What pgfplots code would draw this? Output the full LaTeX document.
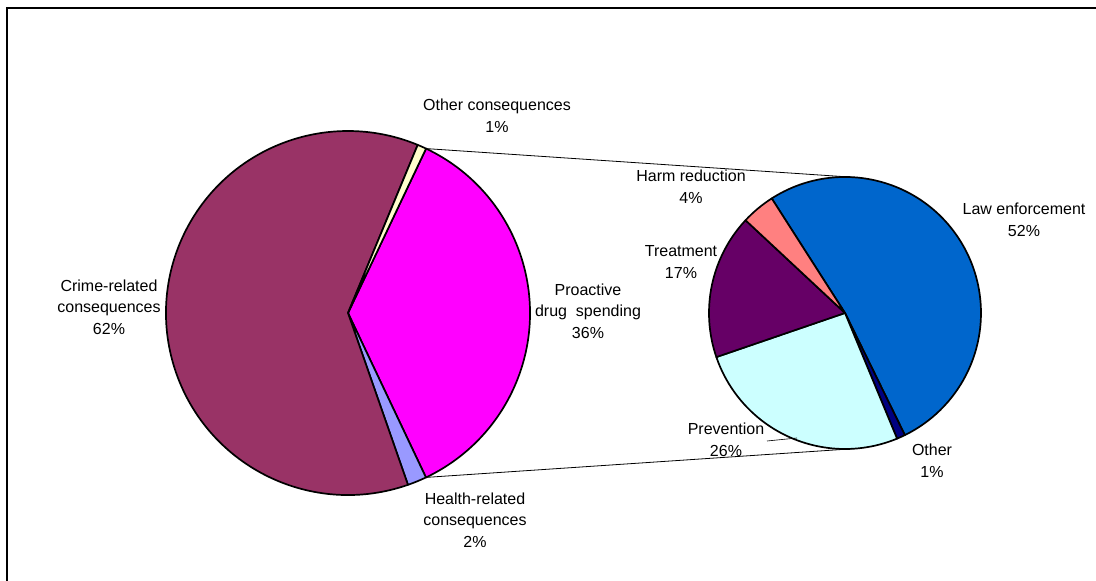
\documentclass[border=0pt]{standalone}
\usepackage{fontspec}
\setmainfont{Liberation Sans}
\usepackage{pgfplots}
\usepackage{pgfplotstable}
\pgfplotsset{compat=1.18}

% slice colours
\definecolor{proactive}{HTML}{FF00FF}
\definecolor{health}{HTML}{9999FF}
\definecolor{crime}{HTML}{993366}
\definecolor{othercons}{HTML}{FFFFCC}
\definecolor{lawenf}{HTML}{0066CC}
\definecolor{otherspend}{HTML}{000080}
\definecolor{prevention}{HTML}{CCFFFF}
\definecolor{treatment}{HTML}{660066}
\definecolor{harm}{HTML}{FF8080}

\tikzset{lbl/.style={font=\fontsize{16}{21.7}\selectfont, align=center, inner sep=0pt}}

% shares of total drug-related cost (%), clockwise
\pgfplotstableread{
share colour
35.9 proactive
1.7  health
61.6 crime
0.8  othercons
}\maintable

% breakdown of proactive drug spending (%), clockwise
\pgfplotstableread{
share colour
51.8 lawenf
1.0  otherspend
26.0 prevention
17.2 treatment
4.0  harm
}\spendtable

% store start/end angle and colour of every slice as #2a<i>, #2b<i>, #2c<i>
\newcommand\buildpie[3]{%
  \pgfplotstablegetrowsof{#1}%
  \pgfmathtruncatemacro\lastrow{\pgfplotsretval-1}%
  \xdef\cumangle{#3}%
  \foreach \i in {0,...,\lastrow}{%
    \pgfplotstablegetelem{\i}{share}\of{#1}\let\sliceshare\pgfplotsretval
    \pgfplotstablegetelem{\i}{colour}\of{#1}\let\slicecol\pgfplotsretval
    \pgfmathsetmacro\endangle{\cumangle-3.6*\sliceshare}%
    \expandafter\xdef\csname #2a\i\endcsname{\cumangle}%
    \expandafter\xdef\csname #2b\i\endcsname{\endangle}%
    \expandafter\xdef\csname #2c\i\endcsname{\slicecol}%
    \xdef\cumangle{\endangle}%
  }%
}
\buildpie{\maintable}{L}{64.6}
\buildpie{\spendtable}{R}{122.6}

\begin{document}
\begin{tikzpicture}
\begin{axis}[
  name=chart,
  width=1096pt, height=581pt, scale only axis,
  xmin=0, xmax=1096, ymin=0, ymax=581,
  hide axis, clip=false,
]
% chart frame
\draw[line width=1.2pt] (axis cs:7,0) -- (axis cs:7,573) -- (axis cs:1096,573);

% connectors between the pies
\draw[line width=0.8pt] (axis cs:426.1,432.4) -- (axis cs:852.1,403.8);
\draw[line width=0.8pt] (axis cs:426.1,103.6) -- (axis cs:852.1,132.2);

% main pie
\pgfplotsinvokeforeach{0,...,3}{
  \filldraw[fill=\csname Lc#1\endcsname, draw=black, line width=1.7pt, line join=round]
    (axis cs:348,268) -- ++(\csname La#1\endcsname:182pt)
    arc[start angle=\csname La#1\endcsname, end angle=\csname Lb#1\endcsname, radius=182pt]
    -- cycle;
}
% secondary pie
\pgfplotsinvokeforeach{0,...,4}{
  \filldraw[fill=\csname Rc#1\endcsname, draw=black, line width=1.7pt, line join=round]
    (axis cs:845,268) -- ++(\csname Ra#1\endcsname:136pt)
    arc[start angle=\csname Ra#1\endcsname, end angle=\csname Rb#1\endcsname, radius=136pt]
    -- cycle;
}

% leader line
\draw[line width=0.6pt] (axis cs:767,140) -- (axis cs:797,143);

% labels
\node[lbl] at (axis cs:497,465) {Other consequences\\1\%};
\node[lbl] at (axis cs:475,61) {Health-related\\consequences\\2\%};
\node[lbl] at (axis cs:588,270) {Proactive\\drug\ \ spending\\36\%};
\node[lbl] at (axis cs:109,274) {Crime-related\\consequences\\62\%};
\node[lbl] at (axis cs:691,394) {Harm reduction\\4\%};
\node[lbl] at (axis cs:681,319) {Treatment\\17\%};
\node[lbl] at (axis cs:726,141) {Prevention\\26\%};
\node[lbl] at (axis cs:932,120) {Other\\1\%};
\node[lbl] at (axis cs:1024,361) {Law enforcement\\52\%};
\end{axis}
\pgfresetboundingbox
\useasboundingbox (chart.south west) rectangle (chart.north east);
\end{tikzpicture}
\end{document}
